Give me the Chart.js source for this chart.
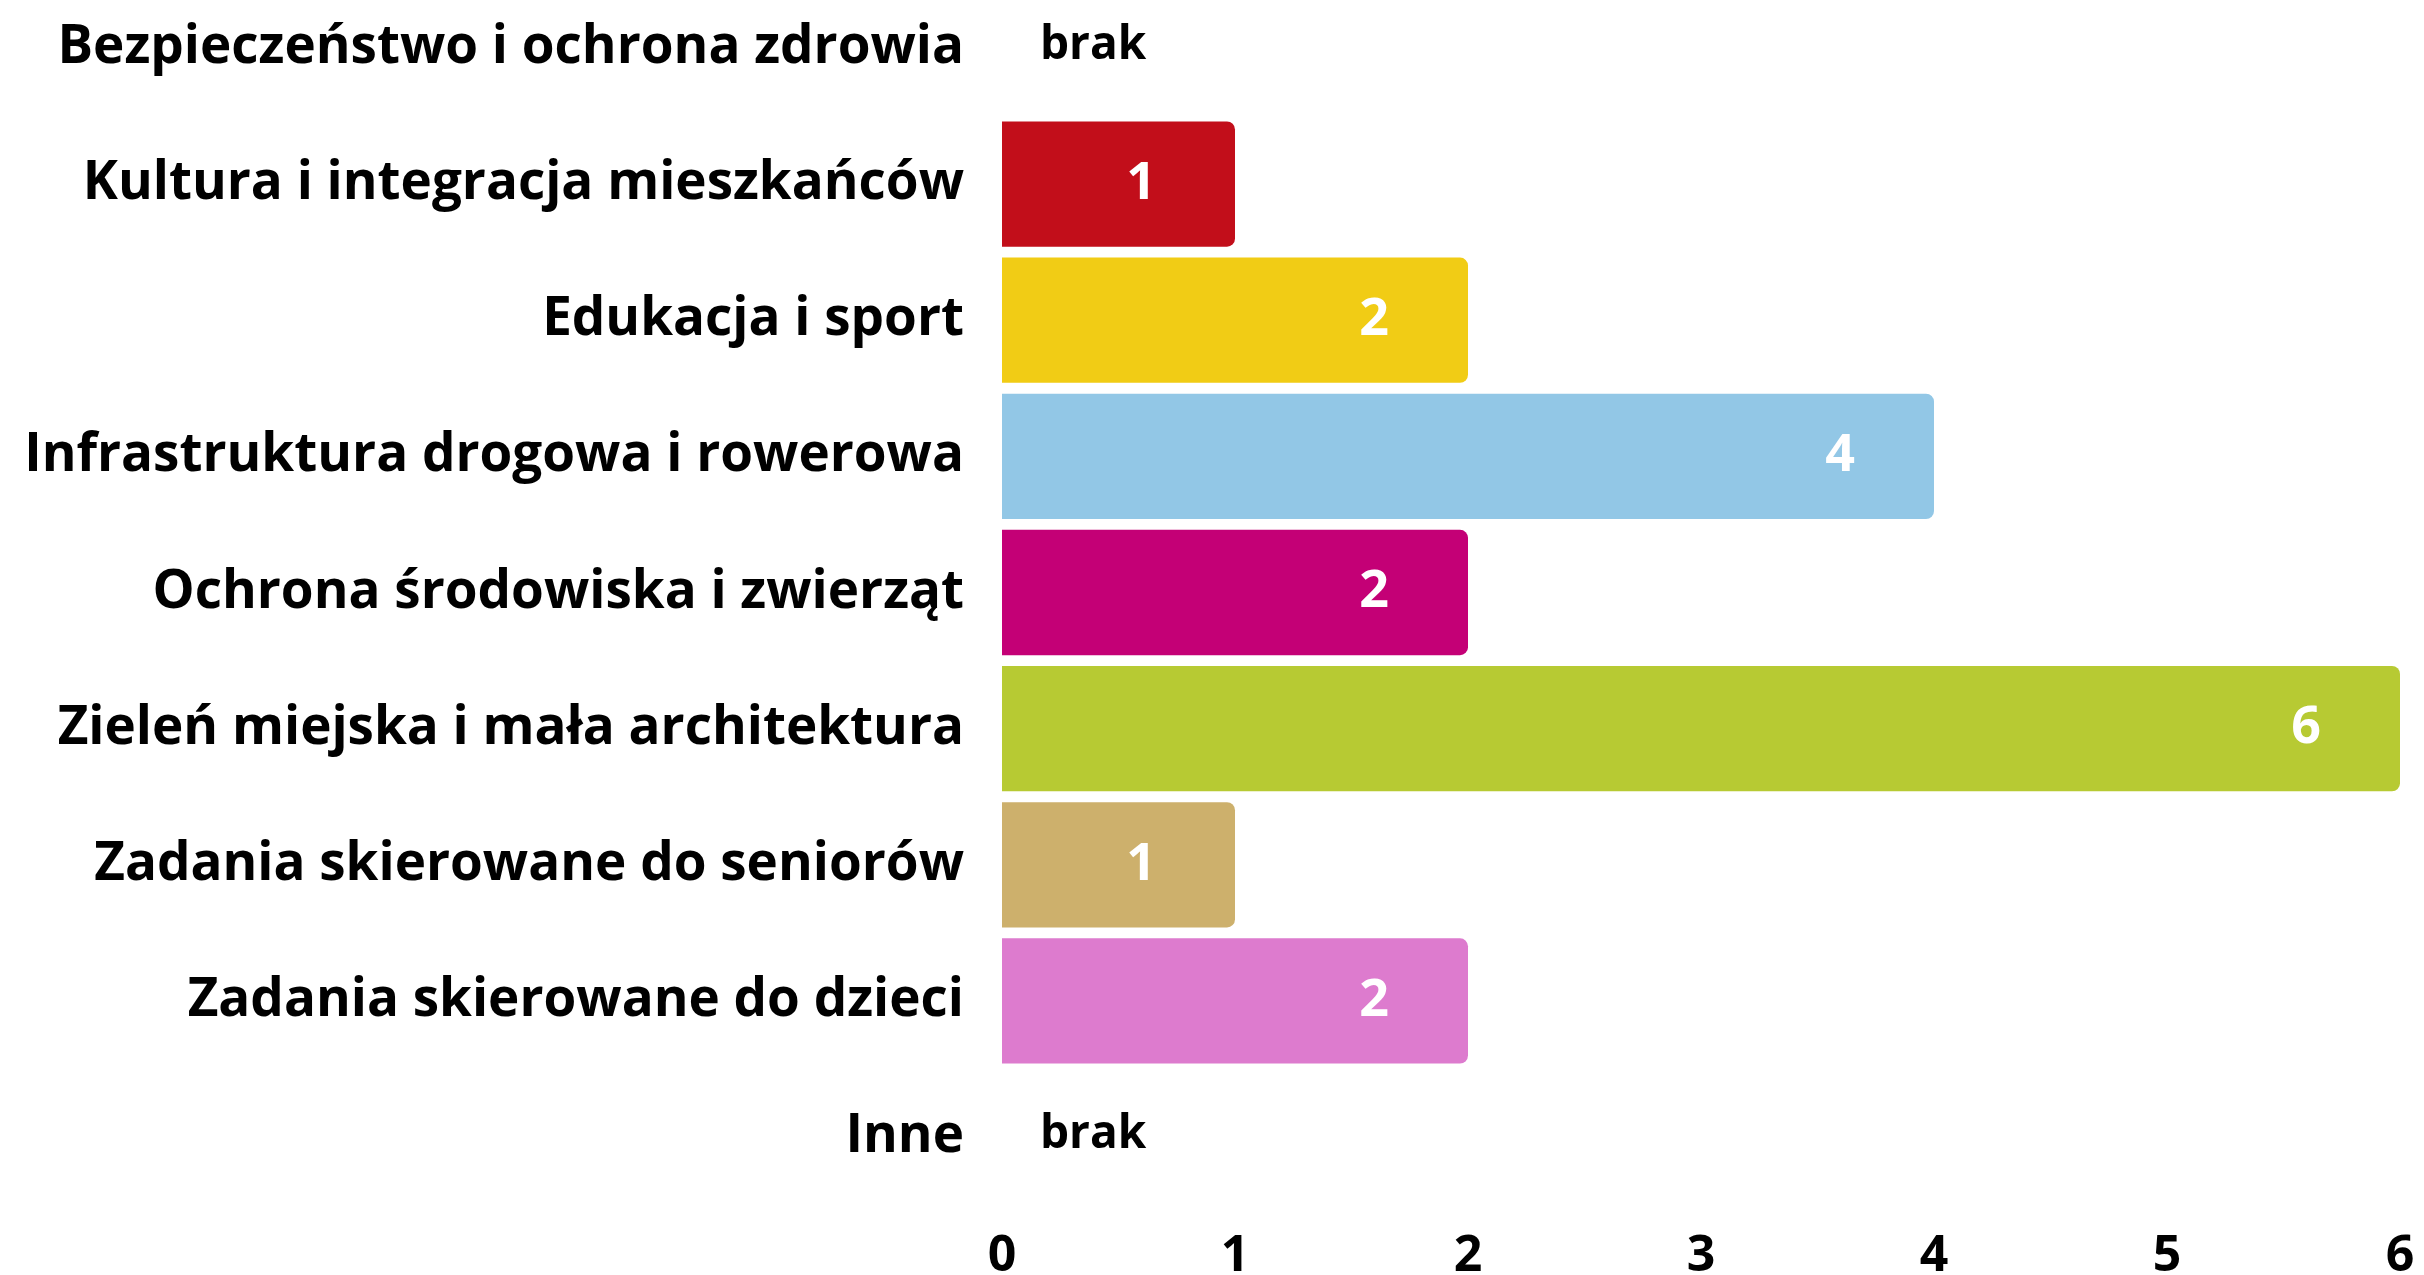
<!DOCTYPE html>
<html>
<head>
<meta charset="utf-8">
<script src="https://cdn.jsdelivr.net/npm/chart.js@4"></script>
<style>
  html, body { margin: 0; padding: 0; background: #fff; overflow: hidden; }
  #chart { position: absolute; left: 0; top: -90px; }
</style>
</head>
<body>
<canvas id="chart" width="2424" height="1365"></canvas>
<script>
const categories = [
  'Bezpieczeństwo i ochrona zdrowia',
  'Kultura i integracja mieszkańców',
  'Edukacja i sport',
  'Infrastruktura drogowa i rowerowa',
  'Ochrona środowiska i zwierząt',
  'Zieleń miejska i mała architektura',
  'Zadania skierowane do seniorów',
  'Zadania skierowane do dzieci',
  'Inne',
]
const values = [0, 1, 2, 4, 2, 6, 1, 2, 0]
const colors = ['#c20e1a', '#c20e1a', '#f1cc15', '#92c7e6', '#c40076', '#b7ca33', '#cdb06c', '#dd7bce', '#dd7bce']
const xTicks = [0, 1, 2, 3, 4, 5, 6]
const emptyLabel = 'brak'

const FONT = '"Open Sans", sans-serif'

const valueLabels = {
  id: 'valueLabels',
  afterDatasetsDraw(chart) {
    const ctx = chart.ctx
    const meta = chart.getDatasetMeta(0)
    const x0 = chart.scales.x.getPixelForValue(0)
    ctx.save()
    meta.data.forEach((bar, i) => {
      const y = chart.scales.y.getPixelForValue(i)
      if (!values[i]) {
        ctx.fillStyle = '#000'
        ctx.font = `bold 46px ${FONT}`
        ctx.textAlign = 'left'
        ctx.textBaseline = 'alphabetic'
        ctx.fillText(emptyLabel, x0 + 38, y + 11)
        return
      }
      ctx.fillStyle = '#fff'
      ctx.font = `bold 52px ${FONT}`
      ctx.textAlign = 'center'
      ctx.textBaseline = 'middle'
      ctx.fillText(String(values[i]), bar.x - 94, y)
    })
    ctx.restore()
  }
}

new Chart(document.getElementById('chart'), {
  type: 'bar',
  data: {
    labels: categories,
    datasets: [{
      data: values.map(v => v || null),
      backgroundColor: colors,
      borderRadius: 8,
      barPercentage: 0.92,
      categoryPercentage: 1,
    }]
  },
  options: {
    indexAxis: 'y',
    responsive: false,
    animation: false,
    layout: { padding: { top: 17, right: 24, bottom: 0, left: 0 } },
    plugins: {
      legend: { display: false },
      tooltip: { enabled: false },
    },
    scales: {
      x: {
        min: 0,
        max: 6,
        afterBuildTicks: scale => { scale.ticks = xTicks.map(v => ({ value: v })) },
        afterFit: scale => {
          scale.height = 67
          scale.paddingLeft = 0
          scale.paddingRight = 0
        },
        grid: { display: false, drawTicks: false },
        border: { display: false },
        ticks: {
          color: '#000',
          padding: 22,
          maxRotation: 0,
          font: { family: FONT, size: 50, weight: 'bold' },
        },
      },
      y: {
        afterFit: scale => { scale.width = 1002 },
        grid: { display: false, drawTicks: false },
        border: { display: false },
        ticks: {
          color: '#000',
          padding: 38,
          font: { family: FONT, size: 53, weight: 'bold' },
        },
      },
    },
  },
  plugins: [valueLabels],
})
</script>
</body>
</html>
